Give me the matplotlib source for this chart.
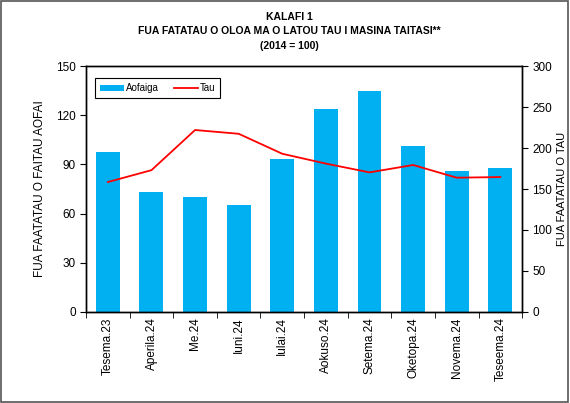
import numpy as np
import matplotlib.pyplot as plt
import matplotlib.patches as mpatches

plt.rcParams['font.family'] = ['Liberation Sans', 'DejaVu Sans']

# 数据
months = ['Tesema.23', 'Aperila.24', 'Me.24', 'Iuni.24', 'Iulai.24',
          'Aokuso.24', 'Setema.24', 'Oketopa.24', 'Novema.24', 'Teseema.24']
aofaiga = [97.6, 73.2, 70.1, 65.2, 93.3, 123.8, 134.8, 101.2, 86.0, 87.8]
tau = [158.5, 173.0, 222.0, 217.4, 193.0, 181.0, 170.3, 179.3, 163.8, 164.6]

fig = plt.figure(figsize=(5.70, 4.03), dpi=100)
ax = fig.add_axes([0.151, 0.226, 0.765, 0.610])
ax2 = ax.twinx()

x = np.arange(len(months))
ax.bar(x, aofaiga, 0.55, color='#00b0f0', label='Aofaiga', zorder=2)
ax2.plot(x, tau, color='#ff0000', lw=1.3, label='Tau')

ax.set_xlim(-0.5, len(months) - 0.5)
ax.set_ylim(0, 150)
ax2.set_ylim(0, 300)
ax.set_yticks(np.arange(0, 151, 30))
ax2.set_yticks(np.arange(0, 301, 50))

# x 轴刻度：标签居中，刻度线在类别之间
ax.set_xticks(x)
ax.set_xticklabels(months, rotation=90, fontsize=8.5)
ax.tick_params(axis='x', which='major', length=0, pad=4)
ax.set_xticks(np.arange(-0.5, len(months)), minor=True)
ax.tick_params(axis='x', which='minor', length=4, direction='out')
ax.tick_params(axis='y', labelsize=8.5, length=4, direction='out')
ax2.tick_params(axis='y', labelsize=8.5, length=4, direction='out')

for a in (ax, ax2):
    for s in a.spines.values():
        s.set_linewidth(1.0)

ax.set_ylabel('FUA FAATATAU O FAITAU AOFAI', fontsize=8.5, labelpad=7)
ax2.set_ylabel('FUA FAATATAU O TAU', fontsize=8, labelpad=3)

fig.text(0.507, 0.958, 'KALAFI 1', ha='center', va='center', fontsize=7.5, fontweight='bold')
fig.text(0.507, 0.923, 'FUA FATATAU O OLOA MA O LATOU TAU I MASINA TAITASI**',
         ha='center', va='center', fontsize=7.5, fontweight='bold')
fig.text(0.507, 0.887, '(2014 = 100)', ha='center', va='center', fontsize=7.5, fontweight='bold')

h1, l1 = ax.get_legend_handles_labels()
h2, l2 = ax2.get_legend_handles_labels()
leg = ax2.legend(h1 + h2, l1 + l2, loc='upper left', bbox_to_anchor=(0.01, 0.97),
                 ncol=2, fontsize=7, fancybox=False, framealpha=1,
                 edgecolor='black', handlelength=2.5, handleheight=0.6,
                 columnspacing=1.5, handletextpad=0.2, borderpad=0.5)
leg.get_frame().set_linewidth(0.8)

# 图框
fig.patches.append(mpatches.Rectangle((0.002, 0.003), 0.995, 0.994, transform=fig.transFigure,
                                      fill=False, edgecolor='#555555', lw=1.2))

plt.savefig('out.png', dpi=100)
